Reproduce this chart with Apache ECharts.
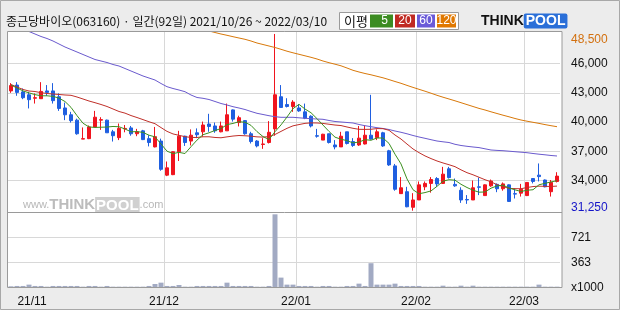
<!DOCTYPE html>
<html><head><meta charset="utf-8">
<script src="https://cdn.jsdelivr.net/npm/echarts@6/dist/echarts.min.js"></script>
<style>html,body{margin:0;padding:0;background:#ececec}#c{width:620px;height:310px}</style>
</head><body><div id="c"></div><script>
const dates = ['2021/10/26','2021/10/27','2021/10/28','2021/10/29',
'2021/11/01','2021/11/02','2021/11/03','2021/11/04','2021/11/05','2021/11/08','2021/11/09','2021/11/10','2021/11/11','2021/11/12',
'2021/11/15','2021/11/16','2021/11/17','2021/11/18','2021/11/19','2021/11/22','2021/11/23','2021/11/24','2021/11/25','2021/11/26','2021/11/29','2021/11/30',
'2021/12/01','2021/12/02','2021/12/03','2021/12/06','2021/12/07','2021/12/08','2021/12/09','2021/12/10','2021/12/13','2021/12/14','2021/12/15','2021/12/16','2021/12/17',
'2021/12/20','2021/12/21','2021/12/22','2021/12/23','2021/12/24','2021/12/27','2021/12/28','2021/12/29','2021/12/30',
'2022/01/03','2022/01/04','2022/01/05','2022/01/06','2022/01/07','2022/01/10','2022/01/11','2022/01/12','2022/01/13','2022/01/14',
'2022/01/17','2022/01/18','2022/01/19','2022/01/20','2022/01/21','2022/01/24','2022/01/25','2022/01/26','2022/01/27','2022/01/28',
'2022/02/03','2022/02/04','2022/02/07','2022/02/08','2022/02/09','2022/02/10','2022/02/11','2022/02/14','2022/02/15','2022/02/16','2022/02/17','2022/02/18',
'2022/02/21','2022/02/22','2022/02/23','2022/02/24','2022/02/25','2022/02/28',
'2022/03/02','2022/03/03','2022/03/04','2022/03/07','2022/03/08','2022/03/10'];

const opens = [43200,43800,43100,42800,42450,42400,43200,43200,42600,41450,
40750,40200,38250,38300,39500,40200,40200,39000,38400,39300,
39400,38800,39100,38300,37450,38050,34550,34600,36950,38550,
38050,38900,39000,39800,39600,39000,39100,41250,39950,40150,
38800,38050,37700,37900,39300,42600,41800,41600,41450,41050,
40600,38600,38150,38800,37650,37450,39000,38000,37650,37750,
38650,38400,38900,37050,35500,32650,32850,31250,32000,33350,
33700,34200,33700,35200,33600,33000,32050,32000,33350,32450,
33450,33600,33150,33550,32650,32700,32450,34200,34550,34050,
32850,33900];
const closes = [43750,43050,42500,42300,42500,43150,43050,42200,41400,40750,
40150,38800,38300,39500,40500,40250,38900,38600,39350,39350,
38800,39000,38200,37900,38500,35150,35300,36950,38550,37900,
38650,38700,39700,39550,39100,39600,40750,40300,40450,38800,
38000,37550,37750,38950,42800,41500,41600,42050,41150,40400,
39600,38550,38750,37900,37450,38550,37800,37600,38350,38650,
38250,39000,37550,35600,33100,33250,31300,32000,33550,33700,
34100,33650,34650,34300,33450,32000,32000,33250,33300,33550,
33950,33150,33650,31850,32600,33100,33800,33900,34400,33350,
33800,34450];
const lows = [43000,42700,42350,41400,41900,42400,42700,41900,41150,40200,
39950,38700,38250,38250,39500,39200,38900,38000,38150,38950,
38600,38550,38150,37500,37400,35000,34450,34550,36000,37550,
37600,38350,38500,39000,38900,38950,39100,40050,39550,38700,
37800,37400,37250,37800,38600,41500,41500,41050,41050,40300,
39450,38400,38150,37800,37200,37450,37700,37450,37550,37700,
38200,38150,37450,35500,32950,32650,31250,30900,32000,33000,
32750,33350,33650,34200,33350,31700,31600,32000,32500,32450,
33350,32800,32950,31800,32150,32350,32400,33700,33900,33300,
32350,33800];
const highs = [44000,44100,43450,43100,42950,44100,43800,44000,42950,42000,
41050,40350,39450,39650,41150,40500,40250,39200,39850,39700,
39600,39300,39200,38650,39500,38300,35950,37000,39100,38600,
39250,39350,40050,40850,39950,40050,41900,41300,40650,40200,
39000,38150,38350,40100,49050,43800,42450,42250,41850,41900,
40700,39300,38800,38800,38150,39000,39000,38350,39600,39650,
42800,39250,39000,37150,35700,34350,33350,32700,33900,33900,
34350,34350,35400,35400,34200,33300,32500,34000,34300,33600,
34100,33700,33800,33600,33200,33650,33800,34250,35750,34100,
34050,34850];
const volumes = [24,29,29,48,29,29,19,29,29,29,
29,29,19,29,29,19,29,19,19,19,
19,19,19,29,57,76,29,29,43,19,
19,29,29,29,29,29,76,29,29,29,
29,19,19,29,1049,148,48,48,29,29,
29,19,29,29,19,19,29,29,62,29,
353,48,48,48,62,29,29,29,29,19,
19,19,33,19,19,33,19,33,19,19,
19,19,19,19,19,19,19,19,48,19,
19,19];
// moving averages whose history lies before the first visible day
const ma5Head = [43800,43500,43200,43000];
const ma20Head = [43859,43602,43346,43191,43140,43017,42935,42883,42832,42781,42750,42575,42370,42164,41990,41805,41600,41343,41086];
const ma60 = [50072,49815,49559,49302,49045,48789,48583,48326,48018,47710,
47453,47197,46940,46683,46426,46272,46118,45913,45759,45502,
45245,44988,44732,44526,44321,43961,43633,43448,43294,43119,
42780,42524,42441,42318,42113,41908,41753,41579,41445,41291,
41086,40901,40778,40654,40552,40490,40490,40490,40439,40388,
40347,40316,40285,40162,40059,40008,39957,39905,39751,39628,
39525,39422,39340,39237,39083,38950,38796,38621,38467,38333,
38190,38056,37974,37902,37717,37594,37512,37440,37378,37255,
37132,37091,37060,37009,36958,36906,36855,36773,36701,36639,
36567,36516];
const ma120Start = 32;
const ma120Values = [49559,49354,49199,49045,48912,48768,48634,48501,48326,48121,
47967,47813,47659,47474,47279,47114,46960,46806,46652,46478,
46272,46098,45944,45779,45553,45317,45143,44988,44855,44701,
44547,44362,44167,43982,43766,43561,43366,43170,42965,42749,
42554,42370,42185,41990,41794,41599,41404,41240,41055,40880,
40706,40542,40367,40213,40090,39977,39864,39740,39628,39525];
const priceGridTicks = [34000,37000,40000,43000,46000];
const priceLabelTicks = [31250,34000,37000,40000,43000,46000,48500];
const volGridTicks = [363,721];
const volLabelTicks = [0,363,721];

function ma(n, head){
  return closes.map((c,i)=>{
    if(i < n-1) return head[i];
    let s=0; for(let k=i-n+1;k<=i;k++) s+=closes[k];
    return Math.round(s/n);
  });
}
const ma5 = ma(5, ma5Head), ma20 = ma(20, ma20Head);
const ma120 = dates.map((d,i)=> i<ma120Start ? null : ma120Values[i-ma120Start]);
const isMonthStart = (i)=> i>0 && dates[i].slice(0,7)!==dates[i-1].slice(0,7);

const FONT = 'Liberation Sans';
const chart = echarts.init(document.getElementById('c'), null, {renderer:'canvas'});
const gridLine = {show:true, showMinLine:false, showMaxLine:false, lineStyle:{color:'#d8d8d8', width:1}};
const xBase = {type:'category', data:dates, boundaryGap:true, axisLine:{show:false}, axisTick:{show:false},
  splitLine:Object.assign({interval:(i)=>isMonthStart(i)}, gridLine)};

chart.setOption({
  backgroundColor:'#ececec',
  animation:false,
  grid:[{left:8, top:32, width:552, height:180},{left:8, top:212, width:552, height:76}],
  xAxis:[
    Object.assign({gridIndex:0, axisLabel:{show:false}}, xBase),
    Object.assign({gridIndex:1, axisLabel:{show:true, interval:(i)=>isMonthStart(i), formatter:(d)=>d.slice(2,7),
      margin:8, padding:[0,6,0,0], fontSize:12, fontFamily:FONT, color:'#111'}}, xBase)
  ],
  yAxis:[
    {type:'value', gridIndex:0, position:'right', min:30764, max:49251, scale:true,
     axisLine:{show:false}, axisTick:{show:false, customValues:priceGridTicks},
     splitLine:{show:true, lineStyle:{color:'#d8d8d8', width:1}},
     axisLabel:{customValues:priceLabelTicks, margin:11, fontSize:12, fontFamily:FONT,
       formatter:(v)=>Number(v).toLocaleString('en-US'),
       color:(v)=>Number(v)===48500?'#d2700f':(Number(v)===31250?'#1515c8':'#111')}},
    {type:'value', gridIndex:1, position:'right', min:0, max:1082,
     axisLine:{show:false}, axisTick:{show:false, customValues:volGridTicks},
     splitLine:{show:true, lineStyle:{color:'#d8d8d8', width:1}},
     axisLabel:{customValues:volLabelTicks, margin:11, fontSize:12, fontFamily:FONT, color:'#111',
       formatter:(v)=>Number(v)===0?'x1000':String(v)}}
  ],
  series:[
    {name:'MA120', type:'line', data:ma120, xAxisIndex:0, yAxisIndex:0, symbol:'none', clip:true, lineStyle:{color:'#d8780a', width:1}},
    {name:'MA60', type:'line', data:ma60, xAxisIndex:0, yAxisIndex:0, symbol:'none', clip:true, lineStyle:{color:'#6a5acd', width:1}},
    {name:'MA20', type:'line', data:ma20, xAxisIndex:0, yAxisIndex:0, symbol:'none', clip:true, lineStyle:{color:'#c0302a', width:1}},
    {name:'MA5', type:'line', data:ma5, xAxisIndex:0, yAxisIndex:0, symbol:'none', clip:true, lineStyle:{color:'#3c9020', width:1}},
    {name:'price', type:'candlestick', xAxisIndex:0, yAxisIndex:0, barWidth:4,
     data:opens.map((o,i)=>[o, closes[i], lows[i], highs[i]]),
     itemStyle:{color:'#f0141e', color0:'#1f5fe0', borderColor:'#f0141e', borderColor0:'#1f5fe0', borderWidth:1}},
    {name:'volume', type:'bar', xAxisIndex:1, yAxisIndex:1, data:volumes, barWidth:5, itemStyle:{color:'#a2aac3'}}
  ],
  graphic:[
    {type:'rect', z:-10, silent:true, shape:{x:7, y:32, width:555, height:256}, style:{fill:'#ffffff'}},
    {type:'text', z:-5, silent:true, x:23, y:205, style:{
      text:'{a|www.}{b|THINK}{c|POOL}{a|.com}', verticalAlign:'middle',
      rich:{a:{fontSize:11, fontFamily:FONT, fill:'#b8b8b8'},
            b:{fontSize:15, fontWeight:'bold', fontFamily:FONT, fill:'#bcbcbc'},
            c:{fontSize:15, fontWeight:'bold', fontFamily:FONT, fill:'#ffffff', backgroundColor:'#d0d0d0', padding:[1,1,0,1]}}}},
    {type:'rect', z:100, silent:true, shape:{x:7.5, y:31.5, width:554.5, height:256}, style:{fill:null, stroke:'#9a9a9a', lineWidth:1}},
    {type:'line', z:100, silent:true, shape:{x1:7, y1:212.5, x2:562, y2:212.5}, style:{stroke:'#9a9a9a', lineWidth:1}},
    {type:'rect', z:100, silent:true, shape:{x:0.5, y:0.5, width:619, height:309}, style:{fill:null, stroke:'#a8a8a8', lineWidth:1}},
    {type:'text', z:100, silent:true, x:6, y:21, style:{text:'종근당바이오(063160) · 일간(92일) 2021/10/26 ~ 2022/03/10',
      font:'12px "Noto Sans CJK KR"', fill:'#111', verticalAlign:'middle', align:'left'}},
    {type:'rect', z:100, silent:true, shape:{x:339.5, y:12.5, width:119, height:17}, style:{fill:'#ffffff', stroke:'#9a9a9a', lineWidth:1}},
    {type:'text', z:101, silent:true, x:344, y:21, style:{text:'이평', font:'13px "Noto Sans CJK KR"', fill:'#111', verticalAlign:'middle'}},
    {type:'rect', z:101, silent:true, shape:{x:370, y:14.5, width:23, height:13}, style:{fill:'#3c8c22'}},
    {type:'rect', z:101, silent:true, shape:{x:395, y:14.5, width:20, height:13}, style:{fill:'#c02a22'}},
    {type:'rect', z:101, silent:true, shape:{x:417, y:14.5, width:18, height:13}, style:{fill:'#6a5ad8'}},
    {type:'rect', z:101, silent:true, shape:{x:437, y:14.5, width:19, height:13}, style:{fill:'#e07800'}},
    {type:'text', z:102, silent:true, x:388, y:21, style:{text:'5', font:'12px '+FONT, fill:'#fff', align:'right', verticalAlign:'middle'}},
    {type:'text', z:102, silent:true, x:405, y:21, style:{text:'20', font:'12px '+FONT, fill:'#fff', align:'center', verticalAlign:'middle'}},
    {type:'text', z:102, silent:true, x:426, y:21, style:{text:'60', font:'12px '+FONT, fill:'#fff', align:'center', verticalAlign:'middle'}},
    {type:'text', z:102, silent:true, x:446.5, y:21, style:{text:'120', font:'12px '+FONT, fill:'#fff', align:'center', verticalAlign:'middle'}},
    {type:'text', z:100, silent:true, x:481, y:21, style:{text:'{t|THINK}{p|POOL}', verticalAlign:'middle',
      rich:{t:{fontSize:14, fontWeight:'bold', fontFamily:FONT, fill:'#111'},
            p:{fontSize:14, fontWeight:'bold', fontFamily:FONT, fill:'#ffffff', backgroundColor:'#2a6fd8', padding:[1,2,0,2], borderRadius:2}}}}
  ]
});
</script></body></html>
